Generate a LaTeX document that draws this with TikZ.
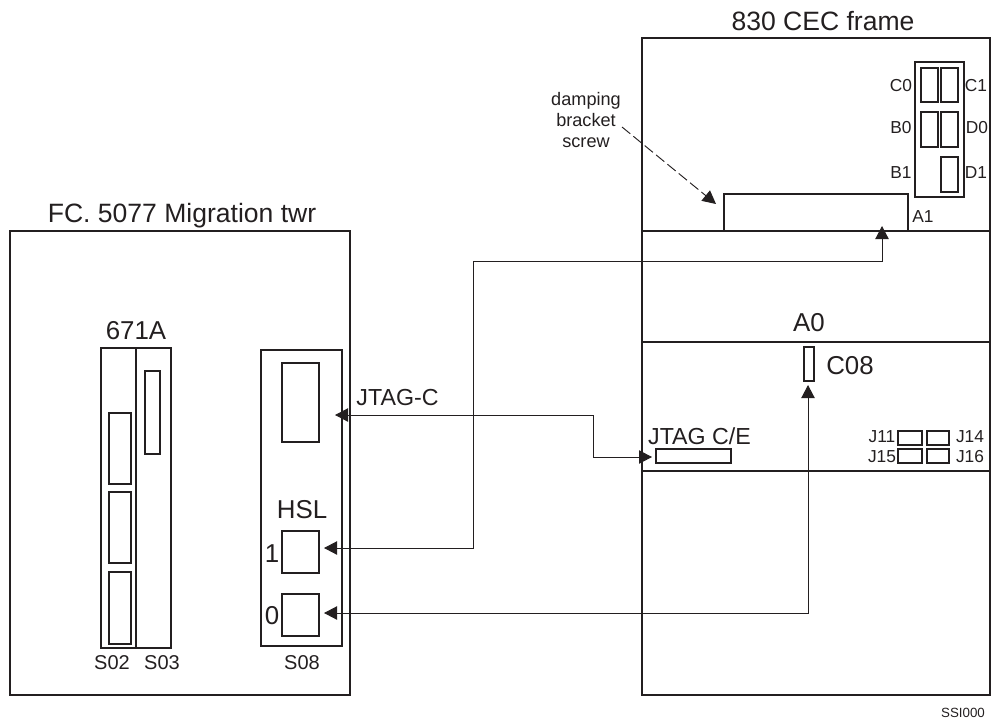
\documentclass[tikz,border=0pt]{standalone}
\usepackage{fontspec}
\setmainfont{Liberation Sans}
\usetikzlibrary{arrows.meta}
\definecolor{ink}{HTML}{231F20}
\newcommand\bx[6][box]{\node[#1,minimum width={(#4-#3)*0.75pt},minimum height={(#6-#5)*0.75pt}] (#2) at ({(#3+#4)/2},{(#5+#6)/2}) {};}
\newcommand\fs[1]{\fontsize{#1}{16pt}\selectfont}
\tikzset{
  box/.style={draw=ink,line width=1.3pt,inner sep=0pt,outer sep=0pt},
  lbl/.style={text=ink,inner sep=0pt,outer sep=0pt,align=center},
  big/.style={lbl,font=\fs{19.4pt}},
  title/.style={lbl,font=\fs{19.9pt}},
  mid/.style={lbl,font=\fs{17.4pt}},
  sml/.style={lbl,font=\fs{13pt}},
  cable/.style={draw=ink,line width=0.75pt,{Triangle[length=9.75pt,width=10pt]}-{Triangle[length=9.75pt,width=10pt]}},
  cableup/.style={draw=ink,line width=0.7pt,dash pattern=on 8pt off 3pt,-{Triangle[length=10pt,width=10pt]}}
}
\begin{document}
\begin{tikzpicture}[x=0.75pt,y=-0.75pt]
\useasboundingbox (0,0) rectangle (994,724);
% left tower
\bx{tower}{10}{350}{231}{695}
\node[title] (towerT) at (182,216) {FC. 5077 Migration twr};
\bx{blk}{101}{171}{348}{648}
\bx{blkD}{101}{136}{348}{648}
\node[big] (blkT) at (136,331) {671A};
\bx{sA}{109}{131}{413}{484}
\bx{sB}{109}{131}{492}{563}
\bx{sC}{109}{131}{572}{644}
\bx{sD}{145}{160}{371}{454}
\node[sml,font=\fs{15pt}] (s02) at (112,663) {S02};
\node[sml,font=\fs{15pt}] (s03) at (162,663) {S03};
\bx{eight}{261}{342}{350}{646}
\bx{jt}{282}{319}{363}{442}
\bx{h1}{282}{319}{531}{573}
\bx{h0}{282}{319}{594}{636}
\node[big] (hsl) at (302,510) {HSL};
\node[big] (one) at (272,554) {1};
\node[big] (zero) at (272,616) {0};
\node[sml,font=\fs{15pt}] (s08) at (302,663) {S08};
% right frame
\bx{secA}{642}{990}{38}{231}
\bx{secB}{642}{990}{231}{342}
\bx{secC}{642}{990}{342}{471}
\bx{secD}{642}{990}{471}{695}
\node[title] (frameT) at (823,21) {830 CEC frame};
\bx{a1}{724}{908}{194}{231}
\node[sml] (a1T) at (923,217) {A1};
\bx{cblk}{915}{964}{62}{197}
\bx{c0}{921}{938}{68}{102}
\bx{c1}{941}{958}{68}{102}
\bx{b0}{921}{938}{112}{147}
\bx{d0}{941}{958}{112}{147}
\bx{d1}{941}{958}{157}{192}
\node[sml] (c0T) at (901,86) {C0};
\node[sml] (c1T) at (976,86) {C1};
\node[sml] (b0T) at (901,128) {B0};
\node[sml] (d0T) at (977,128) {D0};
\node[sml] (b1T) at (901,173) {B1};
\node[sml] (d1T) at (976,173) {D1};
\node[sml,font=\fs{13.6pt}] (damp) at (586,120) {damping\\bracket\\screw};
\node[big] (a0T) at (809,323) {A0};
\bx{c08}{804}{814}{347}{381}
\node[big] (c08T) at (850,366) {C08};
\node[mid] (jce) at (699.5,436) {JTAG C/E};
\bx{jslot}{656}{731}{449}{463}
\bx{j11}{898}{922}{431}{445}
\bx{j14}{927}{949}{431}{445}
\bx{j15}{898}{922}{449}{463}
\bx{j16}{927}{949}{449}{463}
\node[sml] (j11T) at (882,437) {J11};
\node[sml] (j14T) at (970,437) {J14};
\node[sml] (j15T) at (882,457) {J15};
\node[sml] (j16T) at (970,457) {J16};
\node[mid] (jtagc) at (397.5,398) {JTAG-C};
\node[sml,font=\fs{10pt}] (ssi) at (963,713) {SSI000};
% connector ends
\coordinate (e1) at (335,415);
\coordinate (e2) at (652,457);
\coordinate (e3) at (324,548);
\coordinate (e4) at (882,226);
\coordinate (e5) at (324,613);
\coordinate (e6) at (808,385);
\coordinate (e7) at (622,127);
\coordinate (e8) at (716,204);
\draw[cable] (e1) -- (593,415) -- (593,457) -- (e2);
\draw[cable] (e3) -- (473,548) -- (473,261) -- (882,261) -- (e4);
\draw[cable] (e5) -- (808,613) -- (e6);
\draw[cableup] (e7) -- (e8);
\end{tikzpicture}
\end{document}
